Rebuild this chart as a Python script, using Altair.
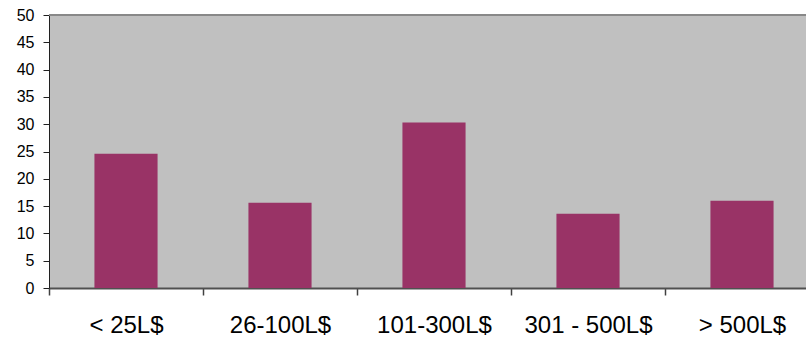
import altair as alt
import pandas as pd

# Price brackets and the share (%) of items falling in each
categories = ["< 25L$", "26-100L$", "101-300L$", "301 - 500L$", "> 500L$"]
shares = [24.6, 15.6, 30.3, 13.6, 16.0]
y_ticks = list(range(0, 55, 5))

df = pd.DataFrame({"bracket": categories, "share": shares})

FONT = "Liberation Sans"
HALF_STEP = 77  # half of one category band (770 / 5 / 2)

y_scale = alt.Scale(domain=[0, 50], nice=False)
y_axis = alt.Axis(
    values=y_ticks,
    labelOverlap=False,
    labelFlush=False,
    labelFont=FONT,
    labelFontSize=16,
    labelColor="black",
    labelPadding=9,
    tickSize=6,
    tickColor="#202020",
    domainColor="#202020",
    domainWidth=1,
    grid=False,
    title=None,
)

bars = alt.Chart(df).mark_bar(color="#993366").encode(
    x=alt.X(
        "bracket:N",
        sort=None,
        title=None,
        scale=alt.Scale(range=[0, 770], paddingInner=0.59, paddingOuter=0.295),
        axis=alt.Axis(
            labelAngle=0,
            labelFont=FONT,
            labelFontSize=24,
            labelColor="black",
            labelPadding=18,
            tickOffset=-HALF_STEP,
            labelOffset=HALF_STEP,
            tickSize=7,
            tickColor="#404040",
            tickWidth=1.5,
            domainColor="#505050",
            domainWidth=2,
            grid=False,
        ),
    ),
    y=alt.Y("share:Q", title=None, scale=y_scale, axis=y_axis),
)

# Upper frame line of the plot area at the top of the value scale
top_line = alt.Chart(df).mark_rule(color="#888888", strokeWidth=1.5).encode(
    y=alt.YDatum(50, scale=y_scale, axis=y_axis)
)

chart = (
    alt.layer(bars, top_line)
    .properties(
        width=757,
        height=273,
        background="white",
        autosize=alt.AutoSizeParams(type="none"),
        padding={"left": 49, "top": 15, "right": 0, "bottom": 50},
    )
    .configure_view(fill="#C0C0C0", stroke=None)
)

chart.save("out.html", embed_options={"renderer": "svg", "actions": False})
